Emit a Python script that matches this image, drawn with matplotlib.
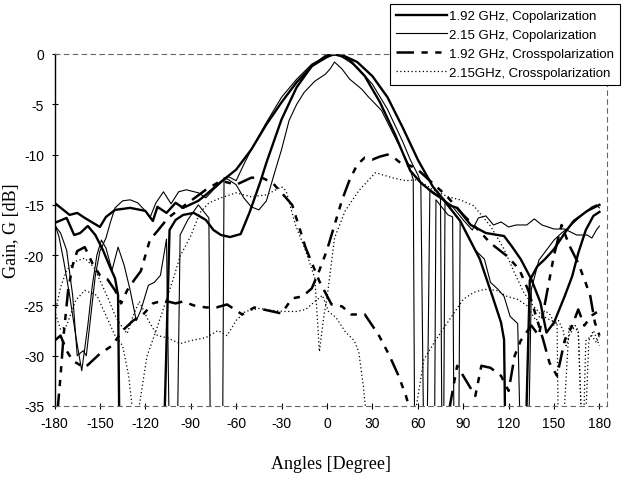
import matplotlib
matplotlib.use("Agg")
import matplotlib.pyplot as plt

plt.rcParams["axes.unicode_minus"] = False

# 1.92 GHz copolarization (two measured cuts)
co192_a_ang = [-180, -170, -165, -160, -150, -146, -140, -130, -120, -115, -112, -106, -100, -95, -85, -80,
               -70, -60, -50, -40, -30, -20, -10, 0, 5, 10, 20, 30, 40, 50, 60, 70, 80, 86, 95, 105, 117,
               122, 128, 135, 141, 145, 150, 157, 162, 166, 171, 176, 180]
co192_a_db = [-14.8, -16, -15.8, -16.3, -17.2, -16.2, -15.5, -15.3, -15.6, -16.6, -15.2, -15.8, -14.8, -15.3,
              -14.6, -14, -12.7, -11.5, -9.5, -7, -4.8, -2.8, -1.2, -0.3, 0, -0.1, -0.8, -2.2, -4.3, -7.3,
              -10.5, -13.2, -15, -15.3, -17, -17.8, -18.1, -19.1, -20.4, -22.4, -24.7, -27.7, -26.7, -24.1,
              -22.1, -19.8, -17.5, -16.1, -15.7]

co192_b_ang = [-180, -172, -167, -163, -158, -153, -148, -143, -140, -138, -137, -108, -104, -100, -95, -88,
               -80, -75, -70, -64, -57, -51, -44, -40, -30, -20, -10, 0, 7, 15, 25, 35, 45, 55, 62, 70, 77,
               88, 101, 110, 115, 117, 118, 124, 131, 134, 139, 144, 150, 158, 163, 172, 180]
co192_b_db = [-16.8, -16.3, -18, -17.8, -17.1, -18, -19.5, -21.3, -22.3, -24, -40, -40, -17.5, -16.5, -16,
              -15.8, -16.5, -17.5, -18, -18.2, -17.9, -15.7, -12.7, -10.8, -6.5, -3.3, -1.2, -0.1, 0, -0.6,
              -2.2, -4.8, -8, -11.6, -12.8, -13.8, -14.5, -16.6, -20.4, -24.4, -26.7, -28.4, -40, -40, -40,
              -22.5, -21.1, -20.4, -19.4, -17.6, -16.6, -15.6, -15]

# 2.15 GHz copolarization (two measured cuts)
co215_a_ang = [-180, -176, -172, -168, -165, -161, -159, -156, -153, -150, -146, -143, -140, -135, -130,
               -125, -120, -117, -113, -108, -103, -98, -93, -85, -80, -75, -70, -65, -60, -55, -50, -40,
               -30, -20, -10, 0, 5, 10, 20, 30, 40, 50, 55, 60, 62, 64, 66, 68, 75, 76, 77, 78, 82, 90,
               96, 100, 105, 110, 115, 120, 125, 132, 137, 142, 150, 157, 165, 172, 175, 178, 180]
co215_a_db = [-17, -17.8, -19.5, -24, -30, -29.5, -30, -26, -22, -19.6, -18.3, -16.7, -15.3, -14.6, -14.5,
              -14.8, -15.6, -16.3, -14.8, -13.7, -14.9, -13.7, -13.5, -13.8, -14.3, -13.5, -12.8, -12.2,
              -12.6, -11, -9.5, -6.8, -4.3, -2.5, -1, -0.2, -0.1, -0.3, -1.3, -3, -5.5, -8.7, -10.5, -12,
              -12.8, -40, -40, -13.5, -14.2, -40, -40, -14.6, -15, -16.5, -17.5, -16.3, -16.1, -17, -16.7,
              -17.2, -17, -17, -16.4, -17, -17.4, -17.4, -18, -18, -18.3, -17.5, -17.1]

co215_b_ang = [-180, -177, -174, -170, -166, -162, -158, -155, -152, -149, -146, -142, -138, -134, -130,
               -126, -123, -118, -114, -110, -106, -104, -99, -97, -92, -85, -78, -77, -69, -68, -65, -60,
               -55, -50, -45, -40, -35, -30, -25, -20, -15, -8, -4, -1, 2, 5, 10, 15, 19, 23, 27, 36, 45,
               54, 57, 58, 71, 72, 80, 83, 84, 87, 88, 92, 98, 104, 108, 113, 117, 121, 126, 128, 133, 135,
               140, 145, 150, 155, 160, 165, 170, 175, 178, 180]
co215_b_db = [-16.8, -18.2, -20.5, -24, -28, -31.5, -27, -23, -20, -18.5, -19.3, -21.5, -19.2, -21, -23.5,
              -26.5, -25.5, -23, -22.7, -22, -18.4, -40, -40, -18, -16.5, -15, -16.3, -40, -40, -12.3,
              -12.5, -13, -14.3, -15.2, -15.5, -14.6, -12, -9.5, -6.6, -5, -3.8, -2.7, -2.3, -2, -1.5,
              -0.8, -1.5, -2.5, -3, -3.5, -4.2, -5.6, -8.3, -11, -12.5, -40, -40, -14.5, -16, -16.2, -40,
              -40, -16.6, -17.8, -19.5, -20.4, -22.7, -23.4, -24.1, -26.1, -26.8, -40, -40, -23.4, -20.5,
              -19.5, -18.5, -17.8, -17.2, -16.5, -15.8, -15.2, -15, -15.3]

# 1.92 GHz crosspolarization (two measured cuts)
x192_a_ang = [-180, -176, -172, -168, -160, -155, -150, -142, -135, -128, -122, -115, -108, -100, -95, -88,
              -80, -73, -66, -56, -48, -36, -30, -23, -16, -10, -5, 0, 5, 10, 15, 20, 25, 30, 35, 40, 45,
              50, 55, 60, 68, 79, 90, 100, 108, 119, 127, 133, 138, 143, 147, 152, 157, 162, 166, 170,
              175, 180]
x192_a_db = [-28.5, -28, -29.5, -30.5, -31.2, -30.5, -29.8, -29, -27.5, -26.5, -26, -24.8, -24.5, -24.8,
             -24.6, -25, -25.2, -25.2, -24.9, -25.9, -25.2, -25.6, -25.8, -24.3, -24.1, -23.3, -21.5, -19.5,
             -17, -14.5, -12.5, -11, -10.3, -10.5, -10.2, -10, -10.4, -11, -11.1, -11.5, -12.6, -14.1, -16,
             -17.5, -18.8, -20.1, -21.4, -23.5, -26, -28.5, -30.7, -32, -28.5, -27, -25.4, -27, -26, -25.5]

x192_b_ang = [-178, -176, -174, -171, -168, -165, -160, -155, -150, -145, -140, -136, -132, -127, -123,
              -117, -112, -105, -98, -90, -80, -70, -60, -50, -43, -36, -30, -23, -14, -5, 3, 10, 16, 25,
              34, 41, 47, 52, 56, 80, 86, 92, 98, 102, 108, 115, 120, 124, 128, 135, 140, 145, 150, 155,
              160, 166, 171, 174, 177, 180]
x192_b_db = [-35.5, -32, -28, -23.5, -21, -19.6, -19.2, -20.8, -22, -22.4, -23.5, -24.8, -23.5, -22.4,
             -21.6, -18.5, -17.6, -16.3, -15.5, -14.6, -13.5, -12.6, -13, -12.3, -12.3, -12.8, -13.8, -15,
             -19.3, -22.6, -24.9, -25.1, -25.9, -25.9, -27.9, -29.9, -31.9, -33.9, -36, -36, -31, -32.5,
             -34, -31, -31.2, -32, -33.5, -30, -28.5, -27, -28, -24, -20, -17, -19, -20.8, -22.8, -24.1,
             -26.7, -28]

# 2.15 GHz crosspolarization (two measured cuts)
x215_a_ang = [-180, -176, -172, -166, -160, -152, -146, -140, -135, -131, -128, -125, -119, -112, -106,
              -101, -97, -90, -84, -78, -70, -60, -50, -40, -30, -27, -21, -14, -8, -5, -2, 0, 5, 12, 21,
              32, 43, 52, 60, 70, 80, 88, 97, 108, 117, 124, 130, 136, 142, 148, 152, 153, 155, 160, 166,
              169, 171, 175, 178, 180]
x215_a_db = [-25.5, -27.4, -27, -24.5, -23.5, -24, -26, -28, -29, -32, -36, -36, -30.1, -27.1, -24.4,
             -22.1, -20.1, -18.1, -15.8, -14.8, -14.3, -13.8, -14.2, -14, -13.2, -13.6, -16.9, -19.6,
             -22.3, -29.6, -26, -24.3, -18.3, -15.6, -13.6, -11.8, -12.3, -12.6, -12.5, -13.5, -14.2,
             -14.5, -15.1, -17.1, -19.4, -21.8, -23.7, -25, -26, -26.5, -26.7, -40, -40, -27, -27.5, -40,
             -28.5, -28, -28.7, -28]

x215_b_ang = [-180, -176, -172, -166, -160, -154, -150, -144, -140, -136, -132, -128, -124, -118, -112,
              -106, -97, -90, -80, -72, -66, -60, -54, -45, -36, -28, -20, -14, -8, -3, 1, 6, 12, 18, 21,
              24, 26, 58, 64, 72, 81, 90, 97, 104, 112, 119, 126, 132, 138, 144, 148, 150, 153, 156, 158,
              160, 164, 166, 168, 171, 173, 176, 180]
x215_b_db = [-26, -23.2, -21.5, -20.6, -20.3, -21.2, -22.5, -24.5, -26, -27, -27.8, -26, -24.6, -26.5, -28,
             -28.2, -28.8, -28.5, -28.2, -27.5, -28, -26.5, -25.6, -25.3, -25.5, -25.6, -25.6, -25.4,
             -24.6, -24, -25.6, -26.2, -27.6, -28.5, -29.6, -33, -36, -36, -30.4, -28.4, -26.4, -24.4,
             -23.7, -23.4, -23.5, -24.1, -24.4, -25, -26.5, -25.5, -26, -27, -26.5, -27.5, -29, -28, -27,
             -27.5, -36, -36, -28.5, -27.5, -29]

x_ticks = list(range(-180, 181, 30))
y_ticks = list(range(-35, 1, 5))
legend_labels = ["1.92 GHz, Copolarization", "2.15 GHz, Copolarization",
                 "1.92 GHz, Crosspolarization", "2.15GHz, Crosspolarization"]

dash_long = (0, (7, 3, 2.5, 3, 2.5, 3))
dots = (0, (1, 2))

fig = plt.figure(figsize=(6.22, 4.81), dpi=100)
ax = fig.add_axes([54.5 / 622, 1 - 407 / 481, (607 - 54.5) / 622, 352 / 481])

ax.plot(co192_a_ang, co192_a_db, color="black", lw=1.7, label=legend_labels[0])
ax.plot(co192_b_ang, co192_b_db, color="black", lw=1.7)
ax.plot(co215_a_ang, co215_a_db, color="black", lw=0.8, label=legend_labels[1])
ax.plot(co215_b_ang, co215_b_db, color="black", lw=0.8)
ax.plot(x192_a_ang, x192_a_db, color="black", lw=1.8, linestyle=dash_long, label=legend_labels[2])
ax.plot(x192_b_ang, x192_b_db, color="black", lw=1.8, linestyle=dash_long)
ax.plot(x215_a_ang, x215_a_db, color="black", lw=0.9, linestyle=dots, label=legend_labels[3])
ax.plot(x215_b_ang, x215_b_db, color="black", lw=0.9, linestyle=dots)

ax.set_xlim(-180, 185)
ax.set_ylim(-35, 0)
ax.set_xticks(x_ticks)
ax.set_yticks(y_ticks)
ax.tick_params(axis="both", direction="inout", length=5, width=0.8, labelsize=10, pad=5)
for lab in ax.get_xticklabels() + ax.get_yticklabels():
    lab.set_fontfamily("Liberation Sans")

for side in ["top", "right", "bottom"]:
    ax.spines[side].set_linestyle((0, (4, 4)))
    ax.spines[side].set_color("#666666")
    ax.spines[side].set_linewidth(0.8)
ax.spines["left"].set_linewidth(1.0)

ax.set_xlabel("Angles [Degree]", fontfamily="Liberation Serif", fontsize=13, labelpad=18)
ax.set_ylabel("Gain, G [dB]", fontfamily="Liberation Serif", fontsize=13)
ax.yaxis.set_label_coords(-0.062, 0.5)

leg = fig.legend(loc="upper right", bbox_to_anchor=(620 / 622, 1 - 5 / 481),
                 bbox_transform=fig.transFigure, prop={"family": "Liberation Sans", "size": 9.5},
                 handlelength=3.9, handletextpad=0.15, labelspacing=0.5, borderpad=0.45,
                 fancybox=False, framealpha=1, edgecolor="black", borderaxespad=0)
leg.get_frame().set_linewidth(0.8)

fig.savefig("out.png", dpi=100)
